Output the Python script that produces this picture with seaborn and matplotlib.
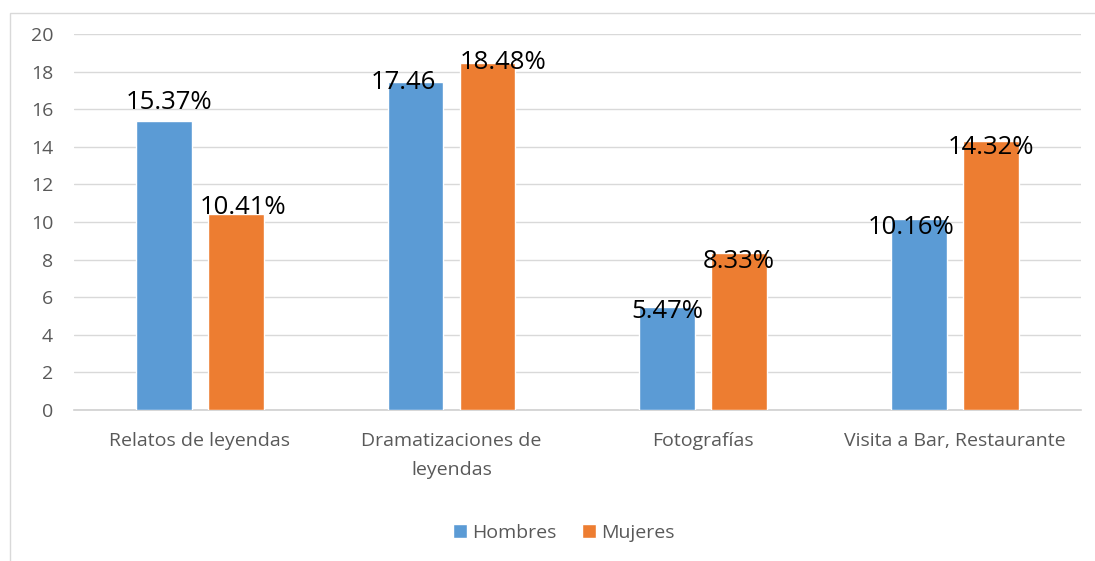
import matplotlib
matplotlib.use("Agg")
import matplotlib.pyplot as plt
import seaborn as sns
import pandas as pd
from matplotlib.patches import Rectangle

# data
categories = ["Relatos de leyendas", "Dramatizaciones de\nleyendas", "Fotografías", "Visita a Bar, Restaurante"]
hombres = [15.37, 17.46, 5.47, 10.16]
mujeres = [10.41, 18.48, 8.33, 14.32]
labels_h = ["15.37%", "17.46", "5.47%", "10.16%"]
labels_m = ["10.41%", "18.48%", "8.33%", "14.32%"]
series = ["Hombres", "Mujeres"]
colors = ["#5B9BD5", "#ED7D31"]

df = pd.DataFrame({
    "cat": categories * 2,
    "val": hombres + mujeres,
    "serie": [series[0]] * 4 + [series[1]] * 4,
})

sns.set_style("white")
plt.rcParams["font.family"] = ["Open Sans", "DejaVu Sans"]

fig = plt.figure(figsize=(10.95, 5.61), dpi=100)
ax = fig.add_axes([0.0676, 0.2692, 0.9194, 0.6702])

# outer chart frame (cropped at right/bottom)
fig.patches.append(Rectangle((10 / 1095, -0.1), 1.2, 1 - 13 / 561 + 0.1, transform=fig.transFigure,
                             fill=False, edgecolor="#d9d9d9", linewidth=1))

sns.barplot(data=df, x="cat", y="val", hue="serie", palette=colors, width=0.572, gap=0.224,
            saturation=1, ax=ax, legend=True, zorder=3)

ax.set_ylim(0, 20)
ax.set_xlim(-0.5, 3.5)
ax.set_yticks(range(0, 21, 2))
ax.yaxis.grid(True, color="#d9d9d9", linewidth=1, zorder=0)
ax.set_axisbelow(True)
for s in ["top", "right", "left"]:
    ax.spines[s].set_visible(False)
ax.spines["bottom"].set_color("#d0d0d0")
ax.spines["bottom"].set_linewidth(1.2)
ax.tick_params(axis="both", length=0, labelsize=14, labelcolor="#595959")
ax.tick_params(axis="y", pad=15)
ax.tick_params(axis="x", pad=16)
for t in ax.get_xticklabels():
    t.set_linespacing(1.8)
ax.set_xlabel("")
ax.set_ylabel("")

# data labels (manually nudged as in the original)
dx_h = [0.02, -0.05, 0.0, -0.03]
dy_h = [0.64, -0.39, -0.58, -0.80]
dx_m = [0.03, 0.06, 0.0, 0.0]
dy_m = [0.02, -0.34, -0.78, -0.72]
for i in range(4):
    ax.text(i - 0.143 + dx_h[i], hombres[i] + dy_h[i], labels_h[i], ha="center", va="baseline",
            fontsize=18.5, color="black", zorder=5)
    ax.text(i + 0.143 + dx_m[i], mujeres[i] + dy_m[i], labels_m[i], ha="center", va="baseline",
            fontsize=18.5, color="black", zorder=5)

leg = ax.legend(loc="center", bbox_to_anchor=(564 / 1095, 1 - 533 / 561), bbox_transform=fig.transFigure,
                ncol=2, frameon=False, fontsize=14, handlelength=0.7, handleheight=0.7,
                handletextpad=0.3, columnspacing=1.3)
for t in leg.get_texts():
    t.set_color("#595959")

fig.savefig("out.png", dpi=100)
